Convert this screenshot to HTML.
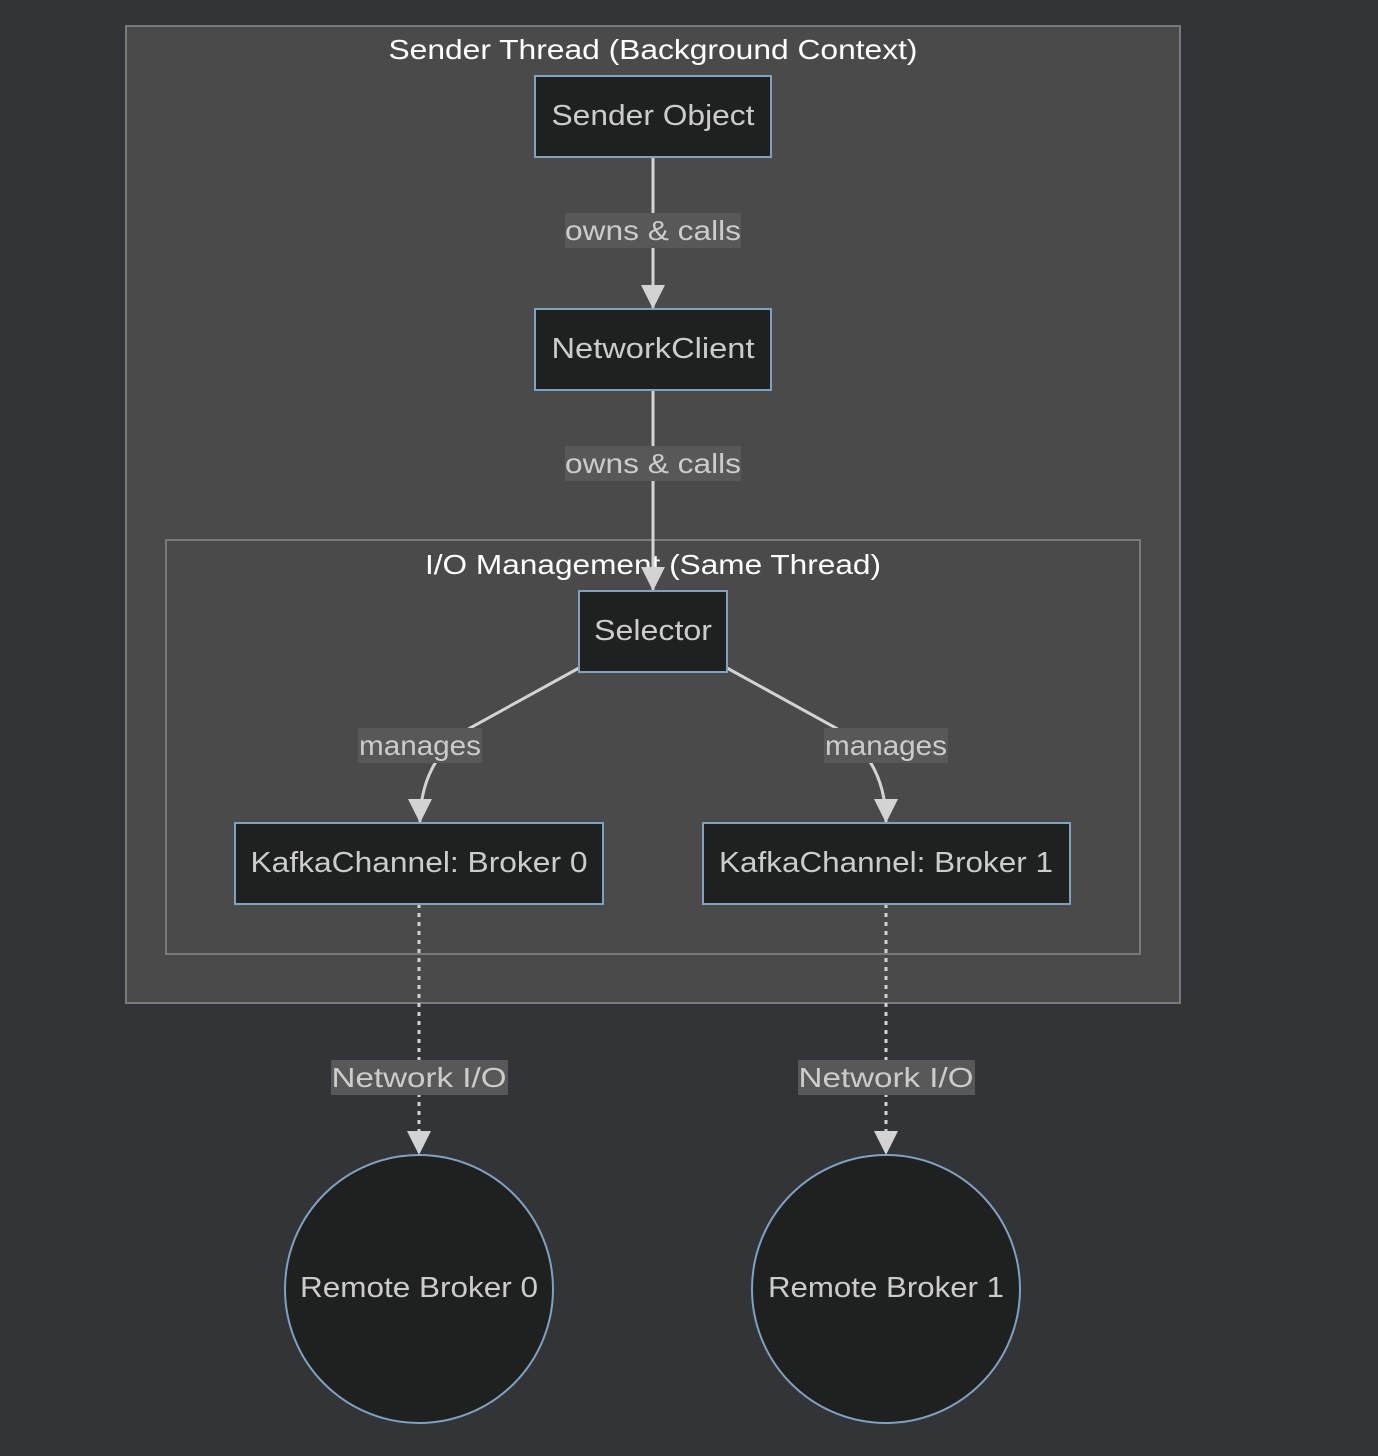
<!DOCTYPE html>
<html><head><meta charset="utf-8"><style>
html,body{margin:0;padding:0;background:#333438;}
svg{display:block}
text{font-family:"Liberation Sans",sans-serif;}
</style></head><body>
<svg width="1378" height="1456" viewBox="0 0 1378 1456" xmlns="http://www.w3.org/2000/svg">
<defs>
<marker id="a" viewBox="0 0 10 10" refX="10" refY="5" markerWidth="24" markerHeight="24" markerUnits="userSpaceOnUse" orient="auto"><path d="M0,0 L10,5 L0,10 z" fill="#d3d3d3"/></marker>
</defs>
<rect x="0" y="0" width="1378" height="1456" fill="#333438"/>
<rect x="126" y="26" width="1054" height="977" fill="#494a49" stroke="#7a7a7a" stroke-width="2"/>
<text x="653" y="59" font-size="28" fill="#ffffff" text-anchor="middle" textLength="529" lengthAdjust="spacingAndGlyphs">Sender Thread (Background Context)</text>
<rect x="166" y="540" width="974" height="414" fill="#494a49" stroke="#7a7a7a" stroke-width="2"/>
<text x="653" y="574" font-size="28" fill="#ffffff" text-anchor="middle" textLength="456" lengthAdjust="spacingAndGlyphs">I/O Management (Same Thread)</text>

<g stroke="#d3d3d3" stroke-width="3" fill="none">
<path d="M653,157 L653,309" marker-end="url(#a)"/>
<path d="M653,390 L653,591" marker-end="url(#a)"/>
<path d="M579,668 L470,728 Q420,760 420,823" marker-end="url(#a)"/>
<path d="M727,668 L836,728 Q886,760 886,823" marker-end="url(#a)"/>
<path d="M419,904 L419,1155" stroke-dasharray="4,5" marker-end="url(#a)"/>
<path d="M886,904 L886,1155" stroke-dasharray="4,5" marker-end="url(#a)"/>
</g>

<g font-size="28" fill="#cccccc" text-anchor="middle" lengthAdjust="spacingAndGlyphs">
<rect x="565" y="213" width="176" height="35" fill="#585858"/><text x="653" y="240" textLength="176" lengthAdjust="spacingAndGlyphs">owns &amp; calls</text>
<rect x="565" y="446" width="176" height="35" fill="#585858"/><text x="653" y="473" textLength="176" lengthAdjust="spacingAndGlyphs">owns &amp; calls</text>
<rect x="358" y="728" width="124" height="35" fill="#585858"/><text x="420" y="755" textLength="122" lengthAdjust="spacingAndGlyphs">manages</text>
<rect x="824" y="728" width="124" height="35" fill="#585858"/><text x="886" y="755" textLength="122" lengthAdjust="spacingAndGlyphs">manages</text>
<rect x="331" y="1060" width="177" height="35" fill="#585858"/><text x="419" y="1087" textLength="175" lengthAdjust="spacingAndGlyphs">Network I/O</text>
<rect x="798" y="1060" width="177" height="35" fill="#585858"/><text x="886" y="1087" textLength="175" lengthAdjust="spacingAndGlyphs">Network I/O</text>
</g>

<g fill="#1f2020" stroke="#81a1c1" stroke-width="2">
<rect x="535" y="76" width="236" height="81"/>
<rect x="535" y="309" width="236" height="81"/>
<rect x="579" y="591" width="148" height="81"/>
<rect x="235" y="823" width="368" height="81"/>
<rect x="703" y="823" width="367" height="81"/>
<circle cx="419" cy="1289" r="134"/>
<circle cx="886" cy="1289" r="134"/>
</g>
<g font-size="29" fill="#cccccc" text-anchor="middle">
<text x="653" y="125" textLength="203" lengthAdjust="spacingAndGlyphs">Sender Object</text>
<text x="653" y="358" textLength="203" lengthAdjust="spacingAndGlyphs">NetworkClient</text>
<text x="653" y="640" textLength="118" lengthAdjust="spacingAndGlyphs">Selector</text>
<text x="419" y="872" textLength="337" lengthAdjust="spacingAndGlyphs">KafkaChannel: Broker 0</text>
<text x="886" y="872" textLength="334" lengthAdjust="spacingAndGlyphs">KafkaChannel: Broker 1</text>
<text x="419" y="1297" textLength="238" lengthAdjust="spacingAndGlyphs">Remote Broker 0</text>
<text x="886" y="1297" textLength="236" lengthAdjust="spacingAndGlyphs">Remote Broker 1</text>
</g>
</svg>
</body></html>
